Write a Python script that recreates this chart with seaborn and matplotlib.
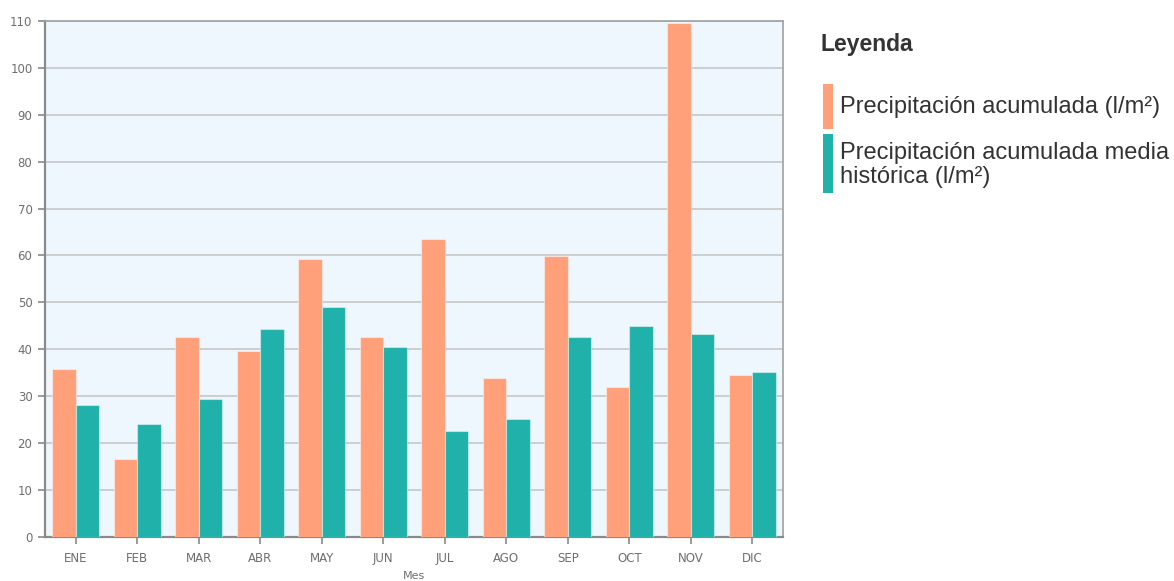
import matplotlib
matplotlib.use("Agg")
import matplotlib.pyplot as plt
from matplotlib.patches import Rectangle
import seaborn as sns
import pandas as pd

meses = ["ENE", "FEB", "MAR", "ABR", "MAY", "JUN", "JUL", "AGO", "SEP", "OCT", "NOV", "DIC"]
acumulada = [35.7, 16.6, 42.5, 39.6, 59.3, 42.5, 63.6, 33.8, 59.9, 32.0, 109.5, 34.4]
media_historica = [28.0, 24.0, 29.3, 44.2, 48.9, 40.4, 22.6, 25.0, 42.5, 44.9, 43.2, 35.1]
series = ["Precipitación acumulada (l/m²)", "Precipitación acumulada media histórica (l/m²)"]
legend_labels = ["Precipitación acumulada (l/m²)", "Precipitación acumulada media\nhistórica (l/m²)"]
colores = ["#FFA07A", "#20B2AA"]
yticks = list(range(0, 111, 10))

df = pd.DataFrame({
    "Mes": meses * 2,
    "valor": acumulada + media_historica,
    "serie": [series[0]] * len(meses) + [series[1]] * len(meses),
})

sns.set_theme(style="white")
plt.rcParams["font.family"] = ["Liberation Sans", "DejaVu Sans"]

fig = plt.figure(figsize=(11.74, 5.81), dpi=100)
ax = fig.add_axes([45 / 1174, 1 - 536.7 / 581, (783 - 45) / 1174, (536.7 - 21) / 581])
ax.set_facecolor("#EEF6FE")

sns.barplot(data=df, x="Mes", y="valor", hue="serie", order=meses, hue_order=series,
            palette=colores, saturation=1, width=0.76, legend=False, ax=ax,
            edgecolor=(1, 1, 1, 0.45), linewidth=0.8, zorder=3)

ax.set_xlim(-0.5, 11.5)
ax.set_ylim(0, 110)
ax.set_yticks(yticks)
ax.set_yticklabels([str(v) for v in yticks])
ax.grid(axis="y", color="#C6C6C6", linewidth=1.2, zorder=0)
ax.set_axisbelow(True)

for side in ["left", "bottom"]:
    ax.spines[side].set_color("#8A8A8A")
    ax.spines[side].set_linewidth(1.6)
for side in ["top", "right"]:
    ax.spines[side].set_color("#A0A0A0")
    ax.spines[side].set_linewidth(1.2)

ax.tick_params(axis="both", direction="out", length=5, width=1.2, color="#8A8A8A",
               labelcolor="#6E6E6E", labelsize=8.5, left=True, bottom=True)
ax.tick_params(axis="x", pad=6)
ax.tick_params(axis="y", pad=4)
for lab in ax.get_xticklabels() + ax.get_yticklabels():
    lab.set_family(["DejaVu Sans"])
ax.set_xlabel("Mes", fontsize=8, color="#6E6E6E", labelpad=4, family=["DejaVu Sans"])
ax.set_ylabel("")

# Leyenda
fig.text(820 / 1174, 1 - 45 / 581, "Leyenda", fontsize=16.5, fontweight="bold",
         color="#333333", ha="left", va="center")
fig.patches.append(Rectangle((823 / 1174, 1 - 129 / 581), 10 / 1174, 45 / 581,
                             transform=fig.transFigure, facecolor=colores[0], edgecolor="none"))
fig.patches.append(Rectangle((823 / 1174, 1 - 193 / 581), 10 / 1174, 59 / 581,
                             transform=fig.transFigure, facecolor=colores[1], edgecolor="none"))
fig.text(840 / 1174, 1 - 107 / 581, legend_labels[0], fontsize=17, color="#333333",
         ha="left", va="center")
fig.text(840 / 1174, 1 - 165 / 581, legend_labels[1], fontsize=17, color="#333333",
         ha="left", va="center", linespacing=1.15)

fig.savefig("out.png", dpi=100)
